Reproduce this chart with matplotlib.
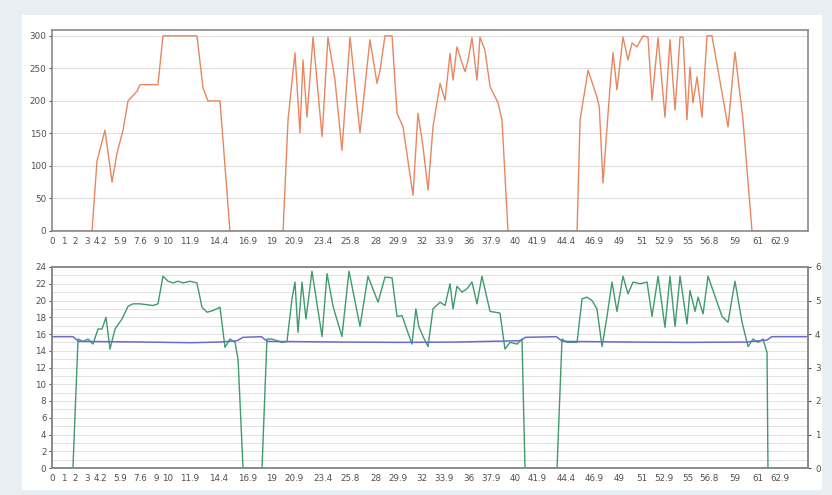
import matplotlib
matplotlib.use("Agg")
import matplotlib.pyplot as plt
from matplotlib.patches import Rectangle

# ---------------- data ----------------
tick_times = [0, 1, 2, 3, 4.2, 5.9, 7.6, 9, 10, 11.9, 14.4, 16.9, 19, 20.9, 23.4, 25.8,
              28, 29.9, 32, 33.9, 36, 37.9, 40, 41.9, 44.4, 46.9, 49, 51, 52.9, 55,
              56.8, 59, 61, 62.9]
tick_labels = ["0", "1", "2", "3", "4.2", "5.9", "7.6", "9", "10", "11.9", "14.4", "16.9",
               "19", "20.9", "23.4", "25.8", "28", "29.9", "32", "33.9", "36", "37.9", "40",
               "41.9", "44.4", "46.9", "49", "51", "52.9", "55", "56.8", "59", "61", "62.9"]

power_t = [0, 3.46, 3.89, 4.58, 5.19, 5.62, 6.14, 6.57, 7.35, 7.61, 9.16, 9.59, 12.53, 13.05,
           13.48, 14.52, 15.38, 19.97, 20.40, 21.00, 21.43, 21.69, 22.04, 22.56, 23.34, 23.85,
           24.46, 25.06, 25.76, 26.62, 27.48, 28.09, 28.35, 28.78, 29.39, 29.82, 30.34, 31.20,
           31.63, 32.07, 32.50, 32.93, 33.54, 33.97, 34.40, 34.66, 35.00, 35.44, 35.70, 35.96,
           36.30, 36.73, 36.99, 37.42, 37.86, 38.55, 38.89, 39.41, 45.38, 45.64, 46.33, 47.10,
           47.30, 47.62, 48.23, 48.49, 48.83, 49.35, 49.78, 50.13, 50.56, 51.08, 51.51, 51.86,
           52.38, 52.98, 53.41, 53.85, 54.28, 54.54, 54.88, 55.14, 55.40, 55.75, 56.18, 56.61,
           57.04, 58.43, 59.03, 59.72, 60.50, 65.34]
power_v = [0, 0, 108, 155, 75, 120, 155, 200, 215, 225, 225, 300, 300, 220,
           200, 200, 0, 0, 171, 274, 151, 263, 175, 298, 145, 298,
           232, 124, 298, 151, 294, 227, 247, 300, 300, 181, 160, 55,
           181, 129, 63, 160, 227, 201, 273, 232, 283, 258, 245, 263,
           297, 232, 298, 278, 222, 197, 171, 0, 0, 171, 247, 206,
           191, 74, 222, 274, 217, 298, 263, 289, 283, 300, 298, 201,
           297, 175, 294, 186, 298, 298, 171, 252, 197, 237, 175, 300,
           300, 160, 275, 171, 0, 0]

green_t = [0, 1.81, 2.25, 2.68, 3.11, 3.54, 3.98, 4.32, 4.67, 5.01, 5.45, 6.05, 6.57, 7.00,
           7.61, 8.73, 9.16, 9.59, 10.03, 10.46, 10.89, 11.32, 11.93, 12.53, 12.96, 13.40,
           13.92, 14.52, 14.95, 15.38, 15.82, 16.08, 16.51, 18.15, 18.58, 19.01, 19.88, 20.31,
           20.74, 21.00, 21.26, 21.61, 21.95, 22.47, 23.34, 23.77, 24.29, 25.06, 25.67, 26.62,
           27.31, 28.18, 28.78, 29.39, 29.82, 30.25, 31.11, 31.45, 31.70, 32.07, 32.50, 32.93,
           33.54, 33.97, 34.40, 34.66, 35.00, 35.44, 35.87, 36.30, 36.73, 37.16, 37.86, 38.72,
           39.15, 39.59, 40.19, 40.62, 40.88, 43.65, 44.08, 44.51, 45.38, 45.81, 46.24, 46.67,
           47.10, 47.54, 47.97, 48.40, 48.83, 49.35, 49.78, 50.22, 50.82, 51.43, 51.86, 52.38,
           52.98, 53.41, 53.85, 54.28, 54.88, 55.14, 55.58, 55.84, 56.27, 56.70, 57.91, 58.43,
           59.03, 59.64, 60.16, 60.59, 61.02, 61.45, 61.80, 61.88, 65.34]
green_v = [0, 0, 15.4, 15.1, 15.4, 14.8, 16.6, 16.6, 18.0, 14.2, 16.6, 17.8, 19.3, 19.6,
           19.6, 19.4, 19.6, 22.9, 22.3, 22.1, 22.3, 22.1, 22.3, 22.1, 19.2, 18.6,
           18.8, 19.2, 14.4, 15.4, 15.0, 13.0, 0, 0, 15.4, 15.4, 15.0, 15.1,
           20.2, 22.2, 16.2, 22.2, 17.8, 23.5, 15.7, 23.2, 19.3, 15.7, 23.5, 16.9,
           22.9, 19.8, 22.8, 22.7, 18.1, 18.2, 14.8, 19.0, 16.9, 15.7, 14.5, 19.0,
           19.8, 19.4, 22.0, 19.0, 21.7, 21.0, 21.4, 22.2, 19.6, 22.9, 18.7, 18.5,
           14.2, 15.0, 14.8, 15.4, 0, 0, 15.4, 15.0, 15.0, 20.2, 20.4, 20.0,
           19.0, 14.5, 18.1, 22.2, 18.7, 22.9, 20.8, 22.2, 22.0, 22.2, 18.1, 22.9,
           16.8, 22.9, 16.9, 22.9, 17.2, 21.2, 18.7, 20.4, 18.4, 22.9, 18.1, 17.4,
           22.3, 17.4, 14.5, 15.4, 15.0, 15.4, 13.8, 0, 0]

blue_t = [0, 1.81, 2.3, 8, 12, 14.5, 16.0, 16.5, 18.1, 18.6, 25, 30, 35, 40.5, 40.9,
          43.6, 44.1, 50, 55, 60, 61.8, 62.2, 65.34]
blue_v = [3.92, 3.92, 3.78, 3.76, 3.74, 3.76, 3.80, 3.90, 3.92, 3.78, 3.76, 3.75, 3.76,
          3.80, 3.90, 3.92, 3.78, 3.76, 3.75, 3.76, 3.82, 3.92, 3.92]

# ---------------- figure ----------------
W, H = 832, 495
fig = plt.figure(figsize=(W / 100, H / 100), dpi=100, facecolor="#e9eef3")
fig.patches.append(Rectangle((22 / W, 5 / H), 800 / W, 475 / H, transform=fig.transFigure,
                             facecolor="white", edgecolor="none", zorder=-10))

spine_c = "#8a8a8a"
lab_c = "#505050"
fs = 6.3
xmax = 65.34


def style(ax):
    for s in ax.spines.values():
        s.set_color(spine_c)
        s.set_linewidth(1.2)
    ax.set_xlim(0, xmax)
    ax.set_xticks(tick_times)
    ax.set_xticklabels(tick_labels)
    ax.tick_params(axis="x", length=0, pad=4, labelsize=fs, colors=lab_c)
    ax.tick_params(axis="y", length=2, pad=2, labelsize=fs, colors=lab_c)


# top panel
ax1 = fig.add_axes([52 / W, 1 - 231 / H, 756 / W, 201 / H])
ax1.set_facecolor("white")
style(ax1)
ax1.set_ylim(0, 309)
ax1.set_yticks([0, 50, 100, 150, 200, 250, 300])
ax1.grid(axis="y", color="#dedede", linewidth=0.8)
ax1.set_axisbelow(True)
ax1.plot(power_t, power_v, color="#e8875f", linewidth=1.0)

# bottom panel
ax2 = fig.add_axes([52 / W, 1 - 468 / H, 756 / W, 201 / H])
ax2.set_facecolor("white")
style(ax2)
ax2.set_ylim(0, 24)
ax2.set_yticks(range(0, 25, 2))
ax2.set_yticks(range(0, 25, 1), minor=True)
ax2.tick_params(axis="y", which="minor", length=0)
ax2.grid(axis="y", which="both", color="#e2e2e2", linewidth=0.7)
ax2.set_axisbelow(True)
ax2.plot(green_t, green_v, color="#3f9a6c", linewidth=1.0)

ax3 = ax2.twinx()
ax3.set_ylim(0, 6)
ax3.set_yticks(range(0, 7))
for s in ax3.spines.values():
    s.set_color(spine_c)
    s.set_linewidth(1.2)
ax3.tick_params(axis="y", length=2, pad=3, labelsize=fs, colors=lab_c)
ax3.plot(blue_t, blue_v, color="#6a6ad0", linewidth=1.1)

fig.savefig("out.png", dpi=100, facecolor=fig.get_facecolor())
